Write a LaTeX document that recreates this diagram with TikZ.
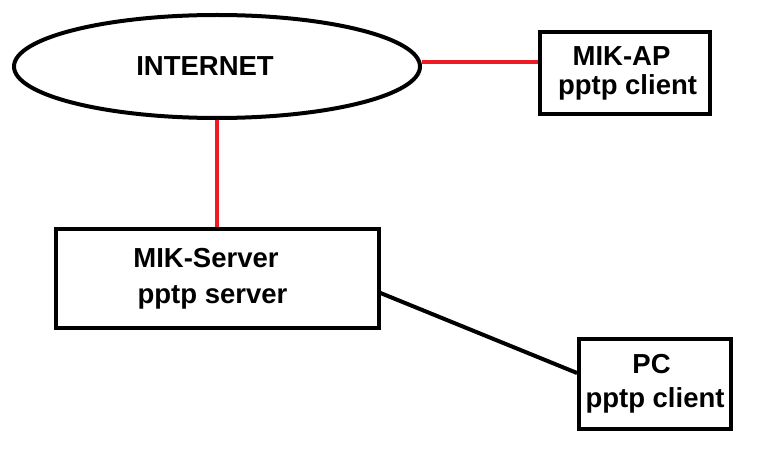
\documentclass[tikz,border=0pt]{standalone}
\usepackage{fontspec}
\setmainfont{Liberation Sans}
\usetikzlibrary{shapes.geometric}
\definecolor{paintred}{RGB}{237,28,36}
\newcommand{\gap}[1]{\rule{#1}{0pt}}

\begin{document}
\begin{tikzpicture}[x=1pt, y=-1pt, line width=4pt,
  box/.style={draw, rectangle, inner sep=0pt, align=center,
    font=\fontsize{27.5}{33}\selectfont\bfseries},
  cloud/.style={draw, ellipse, inner sep=0pt,
    font=\fontsize{27.5}{33}\selectfont\bfseries},
  redlink/.style={draw=paintred}]
  \useasboundingbox (0,0) rectangle (759,457);

  \node[cloud, minimum width=406pt, minimum height=103pt] (inet) at (217,66.5) {INTERNET\gap{24pt}};
  \node[box, minimum width=170pt, minimum height=82pt]    (ap)   at (625,73)   {MIK-AP\gap{7pt}\\[-4pt]\gap{5pt}pptp client};
  \node[box, minimum width=323pt, minimum height=99pt]    (srv)  at (217,278.5) {MIK-Server\gap{22pt}\\[3pt]pptp server\gap{9pt}};
  \node[box, minimum width=152pt, minimum height=90pt]    (pc)   at (655,384)  {PC\gap{7pt}\\[1pt]pptp client};

  \draw[redlink] ([yshift=4.5pt]inet.east) -- ([yshift=11pt]ap.west);
  \draw[redlink] (inet.south) -- (srv.north);
  \draw ([yshift=-14.5pt]srv.east) -- ([yshift=11pt]pc.west);
\end{tikzpicture}
\end{document}
